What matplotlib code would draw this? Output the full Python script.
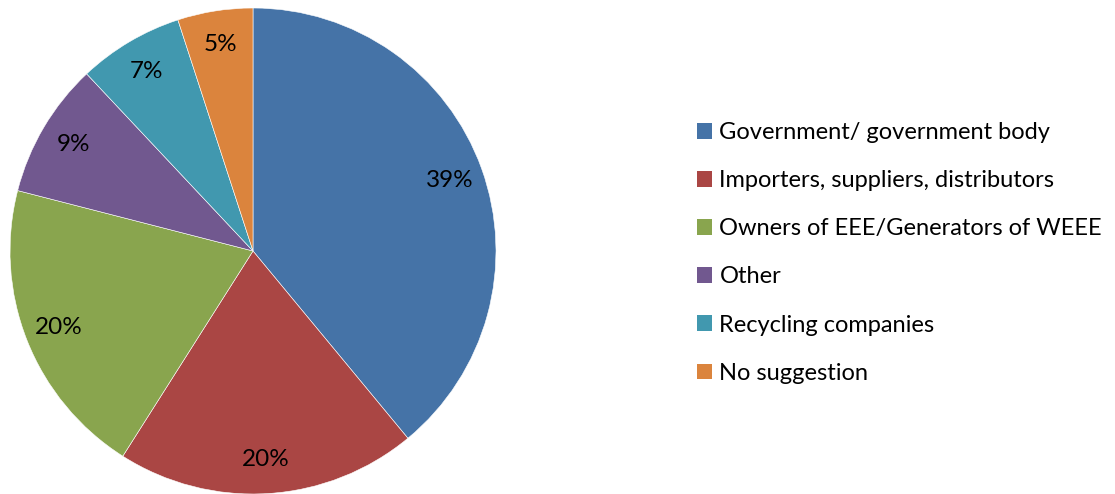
import matplotlib.pyplot as plt
from matplotlib.patches import Patch

plt.rcParams['font.family'] = ['Lato', 'DejaVu Sans']

labels = [
    "Government/ government body",
    "Importers, suppliers, distributors",
    "Owners of EEE/Generators of WEEE",
    "Other",
    "Recycling companies",
    "No suggestion",
]
shares = [39, 20, 20, 9, 7, 5]
colors = ["#4573A7", "#AA4644", "#89A54E", "#71588F", "#4198AF", "#DB843D"]

fig = plt.figure(figsize=(11.15, 4.94), dpi=100)
ax = fig.add_axes([10 / 1115, 0, 486 / 1115, 486 / 494])

wedges, texts, pcts = ax.pie(
    shares,
    colors=colors,
    startangle=90,
    counterclock=False,
    autopct="%d%%",
    pctdistance=0.86,
    radius=1,
    wedgeprops=dict(linewidth=0.4, edgecolor="white"),
    textprops=dict(fontsize=17.5, color="black"),
)
ax.set_xlim(-1, 1)
ax.set_ylim(-1, 1)

handles = [Patch(facecolor=c, edgecolor="none") for c in colors]
fig.legend(
    handles, labels,
    loc="upper left",
    bbox_to_anchor=(697 / 1115, 1 - 122 / 494),
    frameon=False,
    fontsize=17,
    handlelength=0.65,
    handleheight=0.65,
    handletextpad=0.3,
    labelspacing=1.15,
    borderpad=0,
    borderaxespad=0,
)

fig.savefig("out.png", dpi=100)
